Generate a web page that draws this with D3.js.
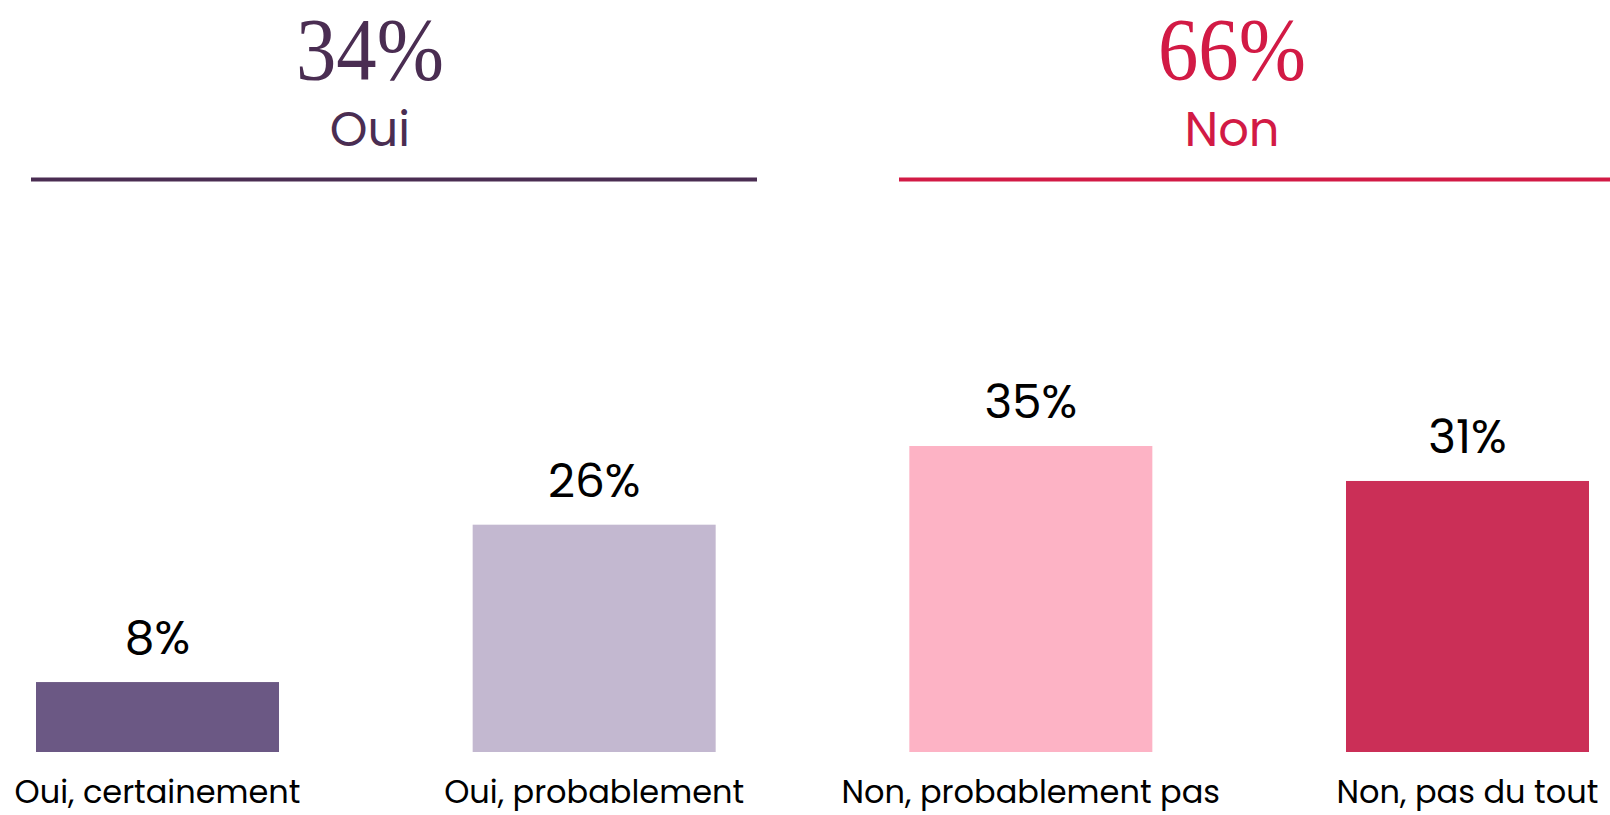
<!DOCTYPE html>
<html>
<head>
<meta charset="utf-8">
<script src="https://cdn.jsdelivr.net/npm/d3@7"></script>
<style>
  body { margin: 0; background: #fff; }
  #wrapper { width: 1610px; height: 815px; }
</style>
</head>
<body>
<div id="wrapper"></div>
<script>
// data
const categories = ["Oui, certainement", "Oui, probablement", "Non, probablement pas", "Non, pas du tout"];
const values = [8, 26, 35, 31];
const barColors = ["#6b5884", "#c3b8d0", "#fdb3c5", "#cb2f57"];

const groupNames = ["Oui", "Non"];
const groupTotals = ["34%", "66%"];
const groupColors = ["#4a2d52", "#d21a45"];

function drawChart() {
    const dimensions = {
        width: 1610,
        height: 815,
        margin: { top: 0, right: 21, bottom: 63, left: 36 },
    }
    const baseline = dimensions.height - dimensions.margin.bottom

    const wrapper = d3.select("#wrapper")
        .html("")
        .append("svg")
        .attr("width", dimensions.width)
        .attr("height", dimensions.height);

    const xScaler = d3.scaleBand()
        .domain(categories)
        .range([dimensions.margin.left, dimensions.width - dimensions.margin.right])
        .paddingInner(0.4435)
        .paddingOuter(0);

    const yScaler = d3.scaleLinear()
        .domain([0, 35])
        .range([baseline, 446]);

    const sansFont = "Poppins, 'Noto Sans', sans-serif";

    // bars
    wrapper.append("g")
        .selectAll("rect")
        .data(values)
        .enter()
        .append("rect")
        .attr("x", (d, i) => xScaler(categories[i]))
        .attr("y", d => yScaler(d))
        .attr("width", xScaler.bandwidth())
        .attr("height", d => baseline - yScaler(d))
        .attr("fill", (d, i) => barColors[i]);

    // value labels
    wrapper.append("g")
        .selectAll("text")
        .data(values)
        .enter()
        .append("text")
        .attr("x", (d, i) => xScaler(categories[i]) + xScaler.bandwidth() / 2)
        .attr("y", d => yScaler(d) - 28)
        .attr("text-anchor", "middle")
        .attr("font-family", sansFont)
        .attr("font-size", "47px")
        .attr("fill", "#000")
        .text(d => d + "%");

    // category labels
    wrapper.append("g")
        .selectAll("text")
        .data(categories)
        .enter()
        .append("text")
        .attr("x", d => xScaler(d) + xScaler.bandwidth() / 2)
        .attr("y", 803)
        .attr("text-anchor", "middle")
        .attr("font-family", sansFont)
        .attr("font-size", "32px")
        .attr("fill", "#000")
        .text(d => d);

    // group headers
    const groupLines = [[31, 757], [899, 1610]];
    const groupCenters = [370, 1232];

    const headers = wrapper.append("g")
        .selectAll("g")
        .data(groupNames)
        .enter()
        .append("g");

    headers.append("text")
        .attr("x", (d, i) => groupCenters[i])
        .attr("y", 79)
        .attr("text-anchor", "middle")
        .attr("font-family", "'Liberation Serif', 'DejaVu Serif', serif")
        .attr("font-size", "88px")
        .attr("textLength", 148)
        .attr("lengthAdjust", "spacingAndGlyphs")
        .attr("fill", (d, i) => groupColors[i])
        .text((d, i) => groupTotals[i]);

    headers.append("text")
        .attr("x", (d, i) => groupCenters[i])
        .attr("y", 146)
        .attr("text-anchor", "middle")
        .attr("font-family", sansFont)
        .attr("font-size", "48px")
        .attr("fill", (d, i) => groupColors[i])
        .text(d => d);

    headers.append("line")
        .attr("x1", (d, i) => groupLines[i][0])
        .attr("x2", (d, i) => groupLines[i][1])
        .attr("y1", 179.5)
        .attr("y2", 179.5)
        .attr("stroke", (d, i) => groupColors[i])
        .attr("stroke-width", 4);
}

drawChart();
</script>
</body>
</html>
